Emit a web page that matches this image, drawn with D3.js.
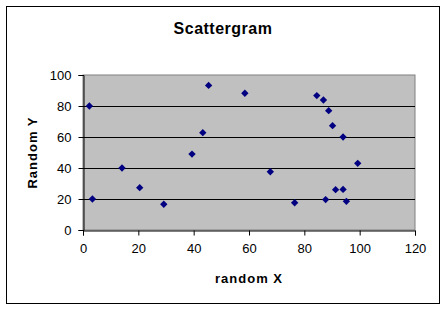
<!DOCTYPE html>
<html><head><meta charset="utf-8">
<script src="https://cdn.jsdelivr.net/npm/d3@7"></script>
<style>body{margin:0;background:#fff}svg{display:block}text{font-family:Arial,"Liberation Sans",sans-serif}</style>
</head><body><svg id="c" width="446" height="310"></svg>
<script>
const title = "Scattergram";
const xLabel = "random X";
const yLabel = "Random Y";
const xValues = [2.3, 3.4, 14.1, 20.5, 29.2, 39.4, 43.3, 45.4, 58.5, 67.7, 76.5, 84.5, 86.9, 88.8, 90.2, 94.0, 99.3, 91.3, 94.0, 87.7, 95.2];
const yValues = [80, 20, 40, 27.3, 16.6, 49, 62.8, 93.3, 88.2, 37.6, 17.6, 86.7, 83.9, 77, 67.3, 60, 43, 26, 26.2, 19.6, 18.5];
const xTicks = [0, 20, 40, 60, 80, 100, 120];
const yTicks = [0, 20, 40, 60, 80, 100];

const svg = d3.select("#c");
svg.append("rect").attr("x",6.5).attr("y",6.5).attr("width",433).attr("height",297)
  .attr("fill","#fff").attr("stroke","#000").attr("stroke-width",1);

const L=83, R=415, T=75, B=230;
const x = d3.scaleLinear().domain([0,120]).range([L,R]);
const y = d3.scaleLinear().domain([0,100]).range([B,T]);

svg.append("rect").attr("x",L).attr("y",T).attr("width",R-L).attr("height",B-T)
  .attr("fill","#c0c0c0").attr("stroke","#808080").attr("stroke-width",1);

// gridlines
svg.append("g").selectAll("line").data(yTicks.filter(d=>d>0 && d<100)).join("line")
  .attr("x1",L).attr("x2",R).attr("y1",d=>Math.round(y(d))+0.5).attr("y2",d=>Math.round(y(d))+0.5)
  .attr("stroke","#000").attr("stroke-width",1);

const xAxis = svg.append("g").attr("transform",`translate(0,${B+0.5})`)
  .call(d3.axisBottom(x).tickValues(xTicks).tickSize(5).tickPadding(8).tickFormat(d3.format("d")));
const yAxis = svg.append("g").attr("transform",`translate(${L+0.5},0)`)
  .call(d3.axisLeft(y).tickValues(yTicks).tickSize(5).tickPadding(7).tickFormat(d3.format("d")));
[xAxis,yAxis].forEach(g=>{
  g.select(".domain").attr("stroke","#000");
  g.selectAll(".tick line").attr("stroke","#000");
  g.selectAll("text").attr("font-size","13px").attr("fill","#000")
   .attr("font-family","Arial, 'Liberation Sans', sans-serif");
});

// points
const sym = d3.symbol().type(d3.symbolSquare).size(27);
svg.append("g").selectAll("path").data(xValues.map((v,i)=>[v,yValues[i]])).join("path")
  .attr("d",sym).attr("transform",d=>`translate(${x(d[0])},${y(d[1])}) rotate(45)`)
  .attr("fill","#000080");

svg.append("text").attr("x",223).attr("y",34).attr("text-anchor","middle")
  .attr("font-size","16px").attr("font-weight","bold").attr("letter-spacing","0.5px").text(title);
svg.append("text").attr("x",(L+R)/2).attr("y",283).attr("text-anchor","middle")
  .attr("font-size","13px").attr("font-weight","bold").attr("letter-spacing","1px").text(xLabel);
svg.append("text").attr("transform",`translate(37,${(T+B)/2}) rotate(-90)`).attr("text-anchor","middle")
  .attr("font-size","13px").attr("font-weight","bold").attr("letter-spacing","1px").text(yLabel);
</script></body></html>
